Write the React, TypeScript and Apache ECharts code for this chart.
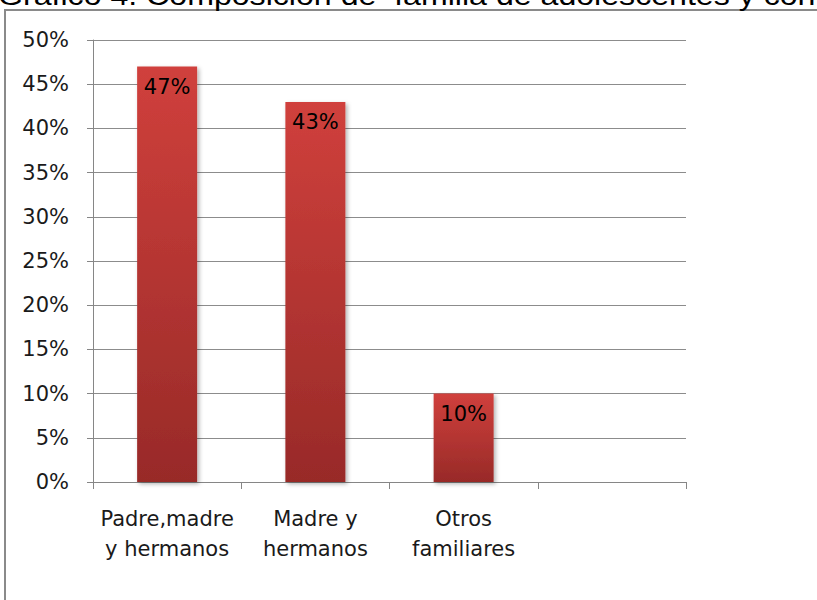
import React, { useEffect, useRef } from "react";
import * as echarts from "echarts";

const categories = ["Padre,madre\ny hermanos", "Madre y\nhermanos", "Otros\nfamiliares", ""];
const values: (number | null)[] = [47, 43, 10, null];
const yTicks = { min: 0, max: 50, interval: 5 };
const titleText = "Gráfico 4. Composición de  familia de adolescentes y con";

export default function App() {
  const ref = useRef<HTMLDivElement>(null);
  useEffect(() => {
    if (!ref.current) return;
    const chart = echarts.init(ref.current, null, { renderer: "svg" });
    const axisFont = "DejaVu Sans";
    chart.setOption({
      animation: false,
      backgroundColor: "#ffffff",
      grid: { left: 93, right: 131, top: 40, bottom: 118, containLabel: false },
      graphic: [
        {
          type: "rect",
          z: 0,
          shape: { x: 5, y: 10, width: 900, height: 700 },
          style: { fill: "none", stroke: "#8a8a8a", lineWidth: 2 },
        },
        {
          type: "text",
          z: 10,
          x: -2,
          y: 9,
          scaleX: 1.19,
          style: {
            text: titleText,
            font: "27px 'Liberation Sans', Arial, sans-serif",
            fill: "#000000",
            verticalAlign: "bottom",
            align: "left",
          },
        },
      ],
      xAxis: {
        type: "category",
        data: categories,
        boundaryGap: true,
        axisLine: { show: true, lineStyle: { color: "#868686", width: 1 } },
        axisTick: { show: true, length: 7, alignWithLabel: false, lineStyle: { color: "#868686" } },
        axisLabel: {
          margin: 22,
          color: "#1a1a1a",
          fontFamily: axisFont,
          fontSize: 21,
          lineHeight: 30,
          interval: 0,
        },
      },
      yAxis: {
        type: "value",
        min: yTicks.min,
        max: yTicks.max,
        interval: yTicks.interval,
        axisLine: { show: true, lineStyle: { color: "#868686", width: 1 } },
        axisTick: { show: true, length: 6, inside: false, lineStyle: { color: "#868686" } },
        axisLabel: {
          margin: 24,
          formatter: "{value}%",
          color: "#1a1a1a",
          fontFamily: axisFont,
          fontSize: 21,
        },
        splitLine: { show: true, lineStyle: { color: "#8c8c8c", width: 1 } },
      },
      series: [
        {
          type: "bar",
          data: values,
          barWidth: 60,
          itemStyle: {
            color: new echarts.graphic.LinearGradient(0, 0, 0, 1, [
              { offset: 0, color: "#d0403c" },
              { offset: 1, color: "#982a28" },
            ]),
            shadowColor: "rgba(0,0,0,0.3)",
            shadowBlur: 4,
            shadowOffsetX: 2,
            shadowOffsetY: 2,
          },
          label: {
            show: true,
            position: "insideTop",
            distance: 10,
            formatter: "{c}%",
            color: "#000000",
            fontFamily: axisFont,
            fontSize: 21,
          },
        },
      ],
    });
    return () => chart.dispose();
  }, []);
  return (
    <div
      ref={ref}
      style={{ position: "fixed", left: 0, top: 0, width: 817, height: 600, background: "#fff" }}
    />
  );
}
